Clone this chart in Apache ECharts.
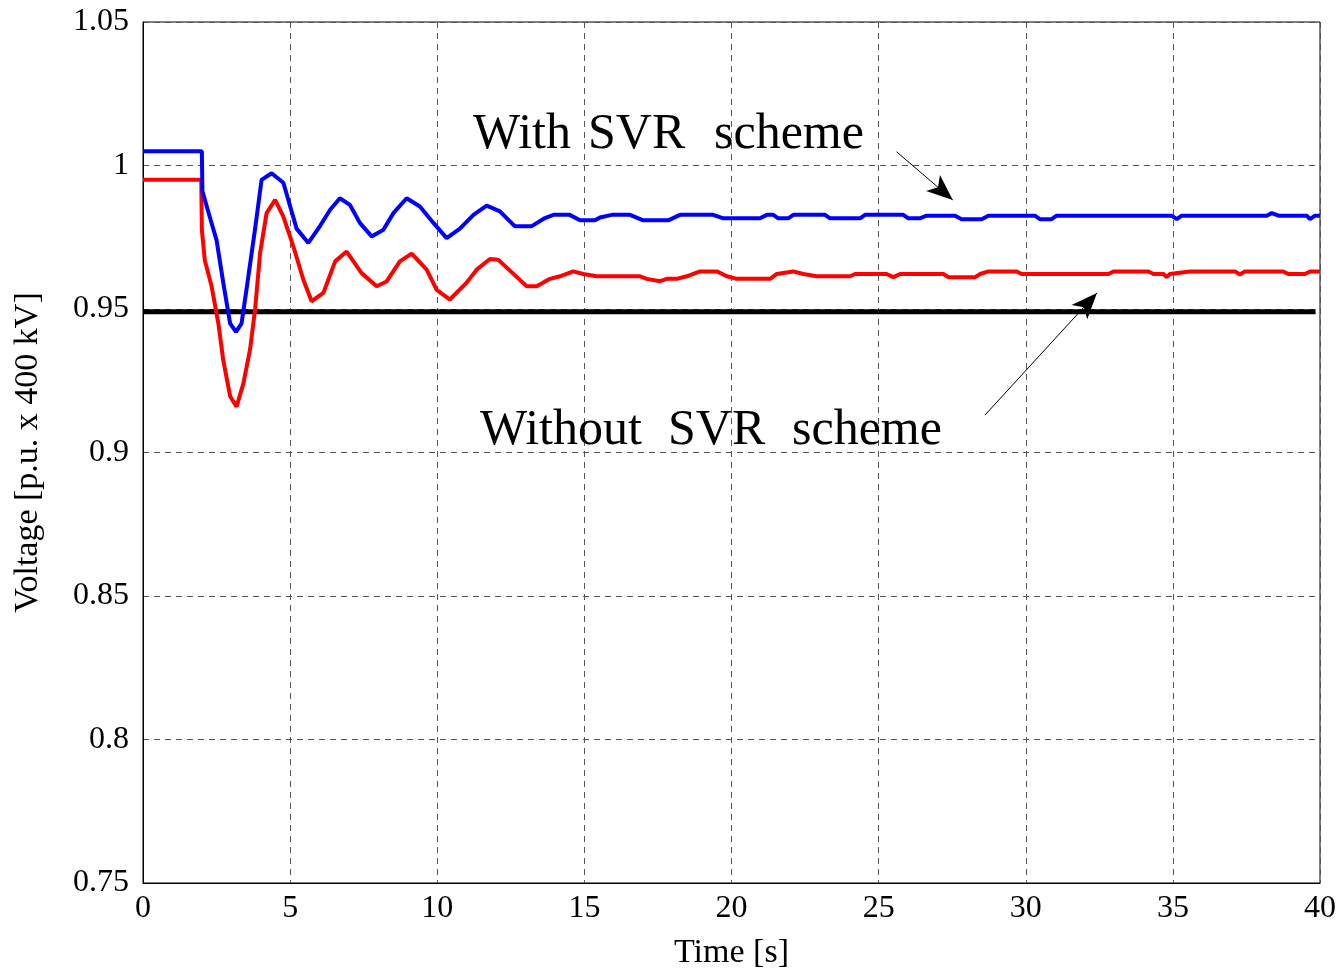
<!DOCTYPE html>
<html>
<head>
<meta charset="utf-8">
<script src="https://cdn.jsdelivr.net/npm/echarts@6/dist/echarts.min.js"></script>
<style>html,body{margin:0;padding:0;background:#fff}#c{width:1340px;height:974px}</style>
</head>
<body>
<div id="c"></div>
<script>
var xTicks = [0, 5, 10, 15, 20, 25, 30, 35, 40];
var yTicks = [0.75, 0.8, 0.85, 0.9, 0.95, 1, 1.05];

var withSvr = [[0,1.005],[2.0,1.005],[2.02,0.991],[2.3,0.981],[2.5,0.974],[2.73,0.959],[2.96,0.945],[3.16,0.942],[3.35,0.945],[3.52,0.957],[3.81,0.978],[4.03,0.995],[4.37,0.9973],[4.77,0.994],[5.22,0.978],[5.62,0.973],[6.02,0.979],[6.36,0.9846],[6.69,0.9886],[7.03,0.9863],[7.37,0.980],[7.77,0.9753],[8.17,0.9776],[8.51,0.9834],[8.96,0.9886],[9.41,0.9857],[9.87,0.980],[10.32,0.9747],[10.77,0.978],[11.23,0.9828],[11.68,0.986],[12.13,0.984],[12.64,0.9788],[13.2,0.9788],[13.66,0.9817],[13.95,0.9828],[14.5,0.9828],[14.85,0.9809],[15.36,0.9809],[15.53,0.9819],[15.93,0.9828],[16.55,0.9828],[17.0,0.9809],[17.85,0.9809],[18.25,0.9828],[19.38,0.9828],[19.72,0.9816],[20.97,0.9816],[21.2,0.9828],[21.42,0.9828],[21.59,0.9816],[21.93,0.9816],[22.1,0.9828],[23.18,0.9828],[23.35,0.9816],[24.37,0.9816],[24.54,0.9828],[25.84,0.9828],[26.01,0.9816],[26.4,0.9816],[26.63,0.9825],[27.6,0.9825],[27.82,0.9813],[28.5,0.9813],[28.73,0.9825],[30.31,0.9825],[30.48,0.9813],[30.88,0.9813],[31.05,0.9825],[34.96,0.9825],[35.13,0.9813],[35.3,0.9825],[38.19,0.9825],[38.36,0.9834],[38.59,0.9825],[39.55,0.9825],[39.66,0.9813],[39.83,0.9825],[40,0.9825]];

var withoutSvr = [[0,0.995],[1.98,0.995],[2.0,0.9776],[2.1,0.967],[2.33,0.958],[2.56,0.945],[2.73,0.932],[2.96,0.9196],[3.18,0.916],[3.41,0.924],[3.64,0.936],[3.81,0.95],[3.98,0.9695],[4.2,0.9834],[4.49,0.988],[4.77,0.9822],[5.11,0.9718],[5.45,0.9602],[5.73,0.9527],[6.13,0.9556],[6.53,0.9666],[6.92,0.970],[7.43,0.9625],[7.94,0.9579],[8.28,0.9596],[8.73,0.9666],[9.13,0.9693],[9.64,0.9637],[9.98,0.9567],[10.43,0.9533],[10.99,0.9591],[11.34,0.9637],[11.79,0.9674],[12.07,0.9672],[13.04,0.9579],[13.38,0.9579],[13.83,0.9605],[14.17,0.9614],[14.62,0.9631],[14.96,0.9622],[15.42,0.9614],[16.89,0.9614],[17.12,0.9605],[17.57,0.9597],[17.8,0.9605],[18.14,0.9605],[18.48,0.9614],[18.93,0.9631],[19.5,0.9631],[19.84,0.9614],[20.18,0.9605],[21.31,0.9605],[21.54,0.9622],[22.1,0.9631],[22.44,0.9622],[22.9,0.9614],[24.03,0.9614],[24.2,0.9622],[25.27,0.9622],[25.5,0.9611],[25.73,0.9622],[27.2,0.9622],[27.37,0.9611],[28.28,0.9611],[28.45,0.9622],[28.73,0.9631],[29.69,0.9631],[29.86,0.9622],[32.81,0.9622],[32.98,0.9631],[34.17,0.9631],[34.34,0.9622],[34.68,0.9622],[34.79,0.9611],[34.9,0.9622],[35.58,0.9631],[37.11,0.9631],[37.28,0.9620],[37.45,0.9631],[38.75,0.9631],[38.92,0.9622],[39.49,0.9622],[39.66,0.9631],[40,0.9631]];

var limitLine = [[0,0.949],[39.85,0.949]];

var arrowWith = [[25.61,1.0048],[27.52,0.988]];
var arrowWithout = [[28.62,0.9131],[32.42,0.9556]];

var labelWith = ["With", "SVR", "scheme"];
var labelWithout = ["Without", "SVR", "scheme"];

var FONT = '"Liberation Serif","Times New Roman",serif';
var chart = echarts.init(document.getElementById('c'), null, {renderer:'canvas'});

function wordTexts(words, xs, y) {
  return words.map(function (w, i) {
    return {type:'text', left: xs[i], top: y, z: 100,
      style:{text:w, font:'50px ' + FONT, fill:'#000'}};
  });
}

var option = {
  animation: false,
  backgroundColor: '#fff',
  grid: {left:143, right:20, top:22, bottom:91, containLabel:false, outerBoundsMode:'none',
    show:true, borderColor:'#000', borderWidth:1, backgroundColor:'#fff'},
  xAxis: {
    type:'value', min:0, max:40, interval:5,
    name:'Time [s]', nameLocation:'middle', nameGap:53,
    nameTextStyle:{fontFamily:FONT, fontSize:34, color:'#000'},
    axisLine:{show:true, lineStyle:{color:'#000', width:1}},
    axisTick:{show:false},
    axisLabel:{fontFamily:FONT, fontSize:32, color:'#000', margin:10,
      formatter:function(v){return xTicks.indexOf(v) >= 0 ? String(v) : '';}},
    splitLine:{show:true, lineStyle:{color:'#555', type:[6,5], width:1}}
  },
  yAxis: {
    type:'value', min:0.75, max:1.05, interval:0.05,
    name:'Voltage [p.u. x 400 kV]', nameLocation:'middle', nameGap:98,
    nameTextStyle:{fontFamily:FONT, fontSize:34, color:'#000'},
    axisLine:{show:true, lineStyle:{color:'#000', width:1}},
    axisTick:{show:false},
    axisLabel:{fontFamily:FONT, fontSize:32, color:'#000', margin:14,
      formatter:function(v){var r = +v.toFixed(2); return yTicks.indexOf(r) >= 0 ? String(r) : '';}},
    splitLine:{show:true, lineStyle:{color:'#555', type:[6,5], width:1}}
  },
  series: [
    {type:'line', data:limitLine, showSymbol:false, symbol:'none', lineStyle:{color:'#000', width:5}, z:3,
      markLine:{silent:true, symbol:['none','arrow'], symbolSize:[16,26], animation:false,
        label:{show:false}, lineStyle:{color:'#000', width:1, type:'solid'},
        data:[
          [{coord:arrowWith[0]},{coord:arrowWith[1]}],
          [{coord:arrowWithout[0]},{coord:arrowWithout[1]}]
        ]}},
    {type:'line', data:withoutSvr, showSymbol:false, symbol:'none', lineStyle:{color:'#ff0000', width:4}, z:4},
    {type:'line', data:withSvr, showSymbol:false, symbol:'none', lineStyle:{color:'#0000ff', width:4}, z:5}
  ],
  graphic: wordTexts(labelWith, [473, 588, 714], 110).concat(wordTexts(labelWithout, [480, 668, 792], 406))
};
chart.setOption(option);
</script>
</body>
</html>
